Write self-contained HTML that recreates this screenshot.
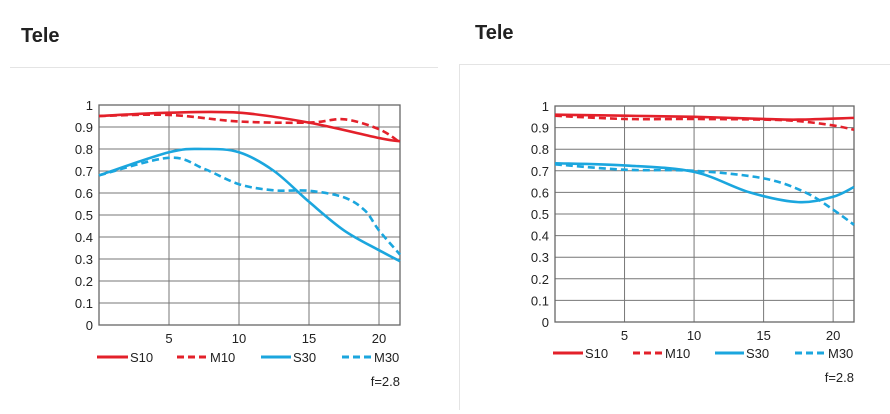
<!DOCTYPE html>
<html><head><meta charset="utf-8"><style>
html,body{margin:0;padding:0;background:#fff;width:890px;height:414px;overflow:hidden}
svg{display:block}
</style></head><body>
<svg id="s" width="890" height="414" xmlns="http://www.w3.org/2000/svg" font-family="Liberation Sans, sans-serif">
<text x="21" y="42" font-size="20" font-weight="bold" fill="#222">Tele</text>
<line x1="10" y1="67.5" x2="438" y2="67.5" stroke="#e4e4e4"/>
<text x="475" y="39" font-size="20" font-weight="bold" fill="#222">Tele</text>
<line x1="459" y1="64.5" x2="890" y2="64.5" stroke="#e4e4e4"/>
<line x1="459.5" y1="64" x2="459.5" y2="410" stroke="#e4e4e4"/>
<g id="g"></g>
</svg>
<script>
var NS="http://www.w3.org/2000/svg",g=document.getElementById('g');
function el(t,a,txt){var e=document.createElementNS(NS,t);for(var k in a)e.setAttribute(k,a[k]);if(txt!=null)e.textContent=txt;g.appendChild(e);return e;}
var RED="#e3202a",BLUE="#1ba6de";
function chart(c){
 var X=function(v){return c.x0+v*(c.x1-c.x0)/21.5},Y=function(v){return c.y0-(c.y0-c.y1)*v};
 for(var i=0;i<=10;i++){var y=Y(i/10);el('line',{x1:c.x0,y1:y,x2:c.x1,y2:y,stroke:'#777','stroke-width':1});
  el('text',{x:c.x0-6,y:y+5,'font-size':13,'text-anchor':'end',fill:'#222'},i==0?'0':i==10?'1':'0.'+i);}
 [5,10,15,20].forEach(function(v){el('line',{x1:X(v),y1:c.y1,x2:X(v),y2:c.y0,stroke:'#777','stroke-width':1});
  el('text',{x:X(v),y:c.y0+18,'font-size':13,'text-anchor':'middle',fill:'#222'},v);});
 el('rect',{x:c.x0,y:c.y1,width:c.x1-c.x0,height:c.y0-c.y1,fill:'none',stroke:'#666','stroke-width':1.3});
 c.series.forEach(function(s){
  var p=s.d.map(function(q){return [X(q[0]),Y(q[1])]});
  var d='M'+p[0][0]+','+p[0][1];
  for(var i=0;i<p.length-1;i++){var p0=p[Math.max(i-1,0)],p1=p[i],p2=p[i+1],p3=p[Math.min(i+2,p.length-1)];
   d+='C'+(p1[0]+(p2[0]-p0[0])/6)+','+(p1[1]+(p2[1]-p0[1])/6)+' '+(p2[0]-(p3[0]-p1[0])/6)+','+(p2[1]-(p3[1]-p1[1])/6)+' '+p2[0]+','+p2[1];}
  var a={d:d,fill:'none',stroke:s.c,'stroke-width':2.6};if(s.dash)a['stroke-dasharray']='7,4';el('path',a);
 });
 c.leg.forEach(function(l,i){var s=c.series[i];var a={x1:l[0],y1:c.ly,x2:l[1],y2:c.ly,stroke:s.c,'stroke-width':3};if(s.dash)a['stroke-dasharray']='7,4';el('line',a);
  el('text',{x:l[1]+2,y:c.ly+5,'font-size':13,fill:'#222'},l[2]);});
 el('text',{x:c.x1,y:c.ly+29,'font-size':13,'text-anchor':'end',fill:'#222'},'f=2.8');
}
chart({x0:99,x1:400,y0:325,y1:105,ly:357,
 leg:[[97,128,'S10'],[177,208,'M10'],[261,291,'S30'],[342,372,'M30']],
 series:[
 {c:RED,d:[[0,.95],[5,.965],[10,.965],[15,.92],[20,.85],[21.5,.835]]},
 {c:RED,dash:1,d:[[0,.95],[5,.955],[10,.925],[15,.92],[17.5,.935],[20,.89],[21.5,.83]]},
 {c:BLUE,d:[[0,.68],[5,.785],[7.5,.80],[10,.785],[12.5,.7],[15,.56],[17.5,.43],[20,.34],[21.5,.29]]},
 {c:BLUE,dash:1,d:[[0,.68],[5,.76],[7.5,.71],[10,.64],[12.5,.612],[15,.61],[17.5,.58],[19,.52],[20,.43],[21.5,.32]]}
 ]});
chart({x0:555,x1:854,y0:322,y1:106,ly:353,
 leg:[[553,583,'S10'],[633,663,'M10'],[715,744,'S30'],[795,826,'M30']],
 series:[
 {c:RED,d:[[0,.96],[5,.955],[10,.95],[15,.94],[17.5,.937],[21.5,.945]]},
 {c:RED,dash:1,d:[[0,.955],[5,.94],[10,.94],[15,.937],[17.5,.93],[20,.91],[21.5,.89]]},
 {c:BLUE,d:[[0,.735],[5,.725],[10,.695],[14,.6],[17.5,.555],[20,.58],[21.5,.625]]},
 {c:BLUE,dash:1,d:[[0,.73],[5,.705],[10,.70],[15,.665],[18,.6],[20,.52],[21.5,.45]]}
 ]});
</script>
</body></html>
